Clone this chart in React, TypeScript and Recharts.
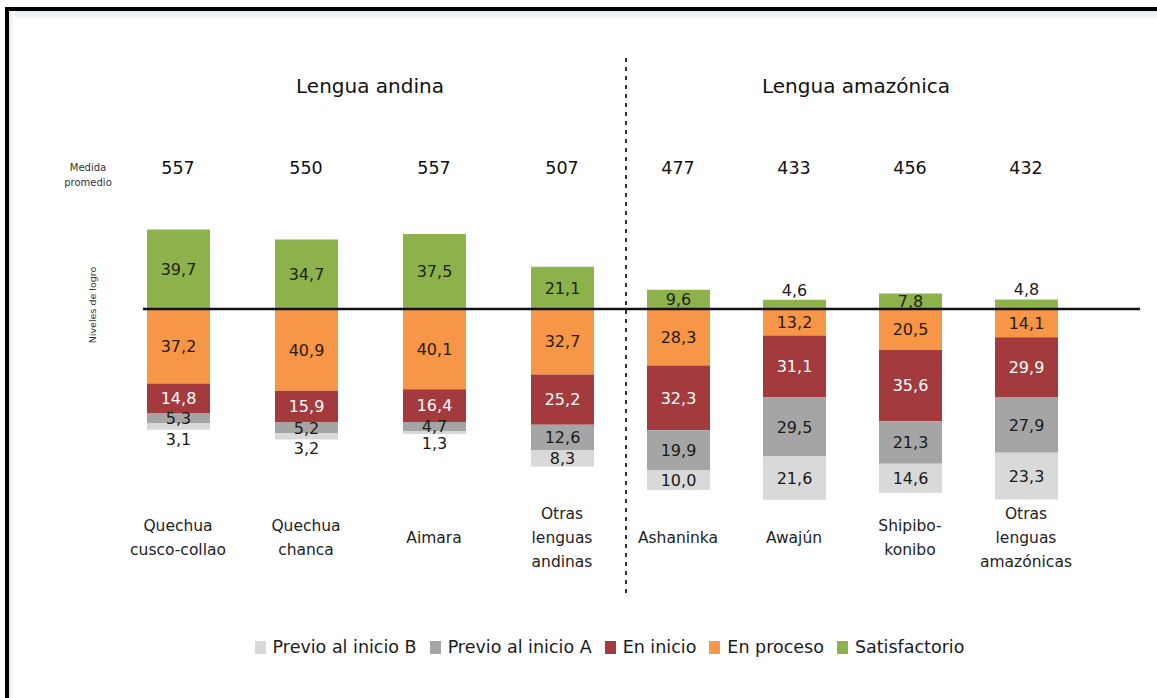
import React from 'react';
import { BarChart, Bar, XAxis, YAxis, ReferenceLine, LabelList } from 'recharts';

// Categories (line breaks as printed under each bar)
const andinaLabels = ['Quechua\ncusco-collao', 'Quechua\nchanca', 'Aimara', 'Otras\nlenguas\nandinas'];
const amazonicaLabels = ['Ashaninka', 'Awajún', 'Shipibo-\nkonibo', 'Otras\nlenguas\namazónicas'];

// Medida promedio
const andinaMedida = [557, 550, 557, 507];
const amazonicaMedida = [477, 433, 456, 432];

// Niveles de logro (%)
const andinaSatisfactorio = [39.7, 34.7, 37.5, 21.1];
const andinaProceso = [37.2, 40.9, 40.1, 32.7];
const andinaInicio = [14.8, 15.9, 16.4, 25.2];
const andinaPrevioA = [5.3, 5.2, 4.7, 12.6];
const andinaPrevioB = [3.1, 3.2, 1.3, 8.3];

const amazonicaSatisfactorio = [9.6, 4.6, 7.8, 4.8];
const amazonicaProceso = [28.3, 13.2, 20.5, 14.1];
const amazonicaInicio = [32.3, 31.1, 35.6, 29.9];
const amazonicaPrevioA = [19.9, 29.5, 21.3, 27.9];
const amazonicaPrevioB = [10.0, 21.6, 14.6, 23.3];

const FONT = '"DejaVu Sans", "Liberation Sans", Arial, sans-serif';

type Serie = { key: string; name: string; color: string; text: string; outer?: boolean; up?: boolean };

// stacking order: first one sits next to the zero line
const series: Serie[] = [
  { key: 'satisfactorio', name: 'Satisfactorio', color: '#8DB24B', text: '#1c2410', outer: true, up: true },
  { key: 'proceso', name: 'En proceso', color: '#F79646', text: '#2b1a0c' },
  { key: 'inicio', name: 'En inicio', color: '#A33A3E', text: '#ffffff' },
  { key: 'previoA', name: 'Previo al inicio A', color: '#A5A5A5', text: '#1a1a1a' },
  { key: 'previoB', name: 'Previo al inicio B', color: '#D9D9D9', text: '#1a1a1a', outer: true },
];

const legendOrder = ['previoB', 'previoA', 'inicio', 'proceso', 'satisfactorio'];

const buildRows = (
  labels: string[],
  medida: number[],
  sat: number[],
  proc: number[],
  ini: number[],
  pa: number[],
  pb: number[]
) =>
  labels.map((lengua, i) => ({
    lengua,
    medida: medida[i],
    satisfactorio: sat[i],
    proceso: -proc[i],
    inicio: -ini[i],
    previoA: -pa[i],
    previoB: -pb[i],
  }));

const andinaData = buildRows(andinaLabels, andinaMedida, andinaSatisfactorio, andinaProceso, andinaInicio, andinaPrevioA, andinaPrevioB);
const amazonicaData = buildRows(amazonicaLabels, amazonicaMedida, amazonicaSatisfactorio, amazonicaProceso, amazonicaInicio, amazonicaPrevioA, amazonicaPrevioB);

const makeLabel = (s: Serie) => (props: any) => {
  const x = Number(props.x);
  const y = Number(props.y);
  const w = Number(props.width);
  const h = Number(props.height);
  const v = Math.abs(Number(props.value));
  const top = Math.min(y, y + h);
  const bottom = Math.max(y, y + h);
  let cy = (top + bottom) / 2;
  let fill = s.text;
  if (s.outer && v < 5) {
    cy = s.up ? top - 10 : bottom + 9;
    fill = '#1a1a1a';
  }
  return (
    <text x={x + w / 2} y={cy} dy="0.36em" textAnchor="middle" fontSize={16} fontFamily={FONT} fill={fill}>
      {v.toFixed(1).replace('.', ',')}
    </text>
  );
};

const CategoryTick = (props: any) => {
  const { x, y, payload } = props;
  const lines = String(payload.value).split('\n');
  const lineH = 24;
  const start = y - ((lines.length - 1) * lineH) / 2;
  return (
    <text textAnchor="middle" fontSize={15.5} fontFamily={FONT} fill="#222">
      {lines.map((l, i) => (
        <tspan key={i} x={x} y={start + i * lineH} dy="0.36em">
          {l}
        </tspan>
      ))}
    </text>
  );
};

const MedidaTick = (props: any) => {
  const { x, y, payload } = props;
  return (
    <text x={x} y={y} dy="0.36em" textAnchor="middle" fontSize={17.5} fontFamily={FONT} fill="#111">
      {payload.value}
    </text>
  );
};

const Group: React.FC<{
  data: any[];
  width: number;
  margin: { top: number; right: number; left: number; bottom: number };
  padding: { left: number; right: number };
}> = ({ data, width, margin, padding }) => (
  <BarChart width={width} height={600} data={data} margin={margin} stackOffset="sign" barSize={63}>
    <XAxis
      dataKey="lengua"
      axisLine={false}
      tickLine={false}
      tickSize={0}
      tickMargin={28}
      height={91}
      padding={padding}
      interval={0}
      tick={<CategoryTick />}
    />
    <XAxis
      xAxisId="top"
      orientation="top"
      dataKey="medida"
      axisLine={false}
      tickLine={false}
      tickSize={0}
      tickMargin={41}
      height={60}
      padding={padding}
      interval={0}
      tick={<MedidaTick />}
    />
    <YAxis hide domain={[-100, 50]} allowDataOverflow />
    {series.map((s) => (
      <Bar key={s.key} dataKey={s.key} name={s.name} stackId="a" fill={s.color} isAnimationActive={false}>
        <LabelList dataKey={s.key} content={makeLabel(s)} />
      </Bar>
    ))}
    <ReferenceLine y={0} stroke="#111" strokeWidth={2.5} />
  </BarChart>
);

export default function App() {
  return (
    <div
      style={{
        position: 'absolute',
        left: 0,
        top: 0,
        width: 1157,
        height: 698,
        background: '#fff',
        overflow: 'hidden',
        fontFamily: FONT,
      }}
    >
      {/* frame */}
      <div style={{ position: 'absolute', left: 5, top: 7, width: 1160, height: 4, background: '#000' }} />
      <div style={{ position: 'absolute', left: 5, top: 7, width: 4, height: 700, background: '#000' }} />
      <div
        style={{
          position: 'absolute',
          left: 9,
          top: 11,
          width: 1150,
          height: 10,
          background: 'linear-gradient(#e4e8ed, #ffffff)',
        }}
      />
      <div
        style={{
          position: 'absolute',
          left: 9,
          top: 11,
          width: 6,
          height: 690,
          background: 'linear-gradient(90deg, #e4e8ed, #ffffff)',
        }}
      />

      {/* group titles */}
      <div style={{ position: 'absolute', left: 114, top: 74, width: 512, textAlign: 'center', fontSize: 20, color: '#111' }}>
        Lengua andina
      </div>
      <div style={{ position: 'absolute', left: 626, top: 74, width: 460, textAlign: 'center', fontSize: 20, color: '#111' }}>
        Lengua amazónica
      </div>

      <div
        style={{
          position: 'absolute',
          left: 55,
          top: 160,
          width: 66,
          textAlign: 'center',
          fontSize: 10,
          lineHeight: '15px',
          color: '#333',
        }}
      >
        Medida
        <br />
        promedio
      </div>
      <div
        style={{
          position: 'absolute',
          left: 92,
          top: 305,
          transform: 'translate(-50%, -50%) rotate(-90deg)',
          whiteSpace: 'nowrap',
          fontSize: 9.5,
          color: '#333',
        }}
      >
        Niveles de logro
      </div>

      <div style={{ position: 'absolute', left: 0, top: 0 }}>
        <Group data={andinaData} width={626} margin={{ top: 149, right: 0, left: 143, bottom: 0 }} padding={{ left: -29, right: 0 }} />
      </div>
      <div style={{ position: 'absolute', left: 626, top: 0 }}>
        <Group data={amazonicaData} width={531} margin={{ top: 149, right: 17, left: 0, bottom: 0 }} padding={{ left: -6, right: 56 }} />
      </div>

      {/* divider */}
      <svg style={{ position: 'absolute', left: 620, top: 55 }} width={12} height={545}>
        <line x1={6} y1={3} x2={6} y2={542} stroke="#333" strokeWidth={2} strokeDasharray="4 5" />
      </svg>

      {/* legend */}
      <div
        style={{
          position: 'absolute',
          left: 0,
          top: 637,
          width: 1232,
          display: 'flex',
          justifyContent: 'center',
          alignItems: 'center',
          fontSize: 17.5,
          color: '#1a1a1a',
          whiteSpace: 'nowrap',
        }}
      >
        {legendOrder.map((k) => {
          const s = series.find((d) => d.key === k)!;
          return (
            <div key={k} style={{ display: 'flex', alignItems: 'center', marginRight: 13 }}>
              <span style={{ display: 'inline-block', width: 11, height: 13, background: s.color, marginRight: 7 }} />
              {s.name}
            </div>
          );
        })}
      </div>
    </div>
  );
}
